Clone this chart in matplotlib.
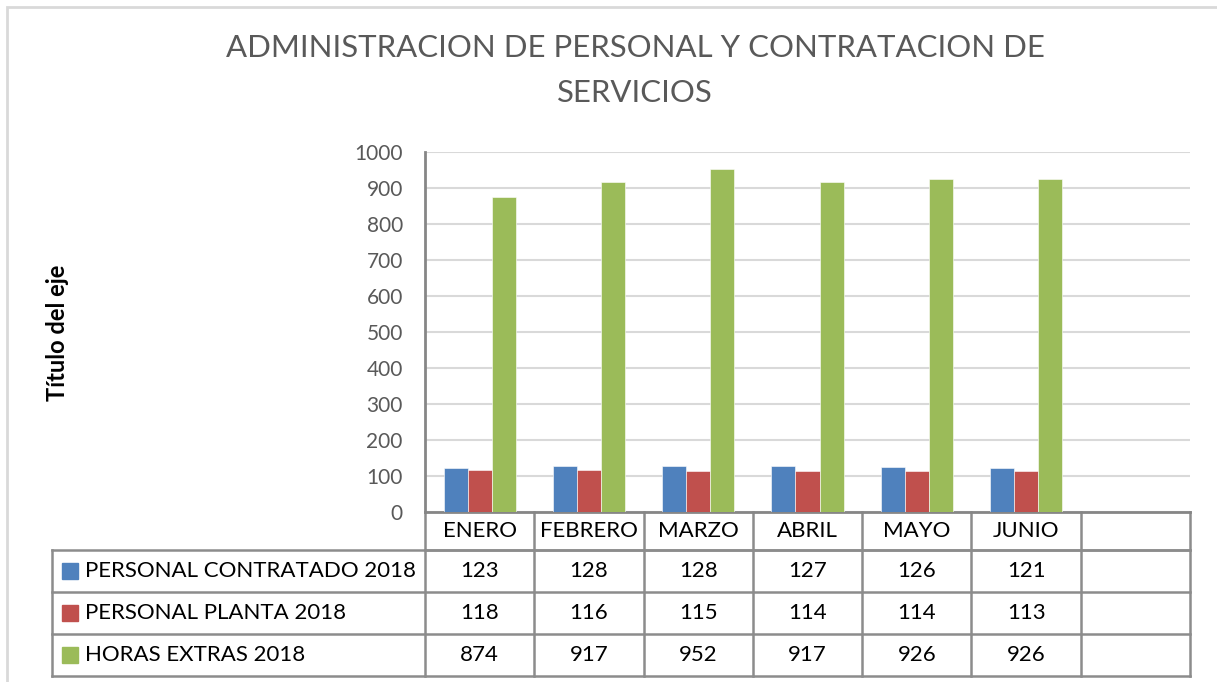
import matplotlib
matplotlib.use("Agg")
import matplotlib.pyplot as plt
from matplotlib.patches import Rectangle
from matplotlib.lines import Line2D
import numpy as np

# data
months = ["ENERO", "FEBRERO", "MARZO", "ABRIL", "MAYO", "JUNIO", ""]
series_names = ["PERSONAL CONTRATADO 2018", "PERSONAL PLANTA 2018", "HORAS EXTRAS 2018"]
contratado = [123, 128, 128, 127, 126, 121]
planta = [118, 116, 115, 114, 114, 113]
horas = [874, 917, 952, 917, 926, 926]
colors = ["#4F81BD", "#C0504D", "#9BBB59"]

W, H = 1217, 682
plt.rcParams['font.family'] = ['Lato', 'DejaVu Sans']

fig = plt.figure(figsize=(W / 100, H / 100), dpi=100)

# outer chart frame
fig.add_artist(Rectangle((7 / W, -0.1), 1.2, (H - 7) / H + 0.1, transform=fig.transFigure,
                         fill=False, edgecolor="#d9d9d9", linewidth=2))

# plot area in pixels
left, right, top, bottom = 425, 1190, 152, 512
ax = fig.add_axes([left / W, (H - bottom) / H, (right - left) / W, (bottom - top) / H])

fig.text(635 / W, 1 - 48 / H, "ADMINISTRACION DE PERSONAL Y CONTRATACION DE",
         ha="center", va="center", fontsize=22.4, color="#595959")
fig.text(635 / W, 1 - 93 / H, "SERVICIOS",
         ha="center", va="center", fontsize=22.4, color="#595959")

values = [contratado, planta, horas]
x = np.arange(len(contratado)) + 0.5
bw = 0.22
for i, (vals, c) in enumerate(zip(values, colors)):
    ax.bar(x + (i - 1) * bw, vals, width=bw, color=c, edgecolor="white", linewidth=0.4, zorder=3)

ax.set_xlim(0, len(months))
ax.set_ylim(0, 1000)
ax.set_yticks(range(0, 1001, 100))
ax.yaxis.grid(True, color="#d9d9d9", linewidth=1.5, zorder=0)
ax.set_xticks([])
ax.tick_params(axis="y", length=0, pad=16, labelsize=15, labelcolor="#595959")
for s in ["top", "right"]:
    ax.spines[s].set_visible(False)
ax.spines["left"].set_color("#868686")
ax.spines["left"].set_linewidth(2)
ax.spines["bottom"].set_color("#868686")
ax.spines["bottom"].set_linewidth(2)

fig.text(58 / W, 1 - 333 / H, "Título del eje", rotation=90, ha="center", va="center",
         fontsize=17, fontweight="bold", color="black")

# data table below the axis
ph = bottom - top
pw = right - left
def fy(py):
    return (bottom - py) / ph
def fx(px):
    return (px - left) / pw

rows_y = [512, 550, 592, 634, 676]
lc = "#8c8c8c"
lw = 1.8
trans = ax.get_xaxis_transform()
# horizontal lines
ax.add_line(Line2D([0, len(months)], [fy(rows_y[1])] * 2, transform=trans, color=lc, lw=lw, clip_on=False))
for yy in rows_y[1:]:
    ax.add_line(Line2D([fx(52), 1], [fy(yy)] * 2, transform=ax.transAxes, color=lc, lw=lw, clip_on=False))
# vertical lines
for k in range(len(months) + 1):
    ax.add_line(Line2D([k, k], [fy(rows_y[0]), fy(rows_y[-1])], transform=trans, color=lc, lw=lw, clip_on=False))
ax.add_line(Line2D([fx(52)] * 2, [fy(rows_y[1]), fy(rows_y[-1])], transform=ax.transAxes, color=lc, lw=lw, clip_on=False))

for k, m in enumerate(months):
    ax.text(k + 0.5, fy((rows_y[0] + rows_y[1]) / 2), m, transform=trans, ha="center", va="center",
            fontsize=16, color="black")
for r, (name, vals, c) in enumerate(zip(series_names, values, colors)):
    yc = fy((rows_y[r + 1] + rows_y[r + 2]) / 2)
    ax.add_patch(Rectangle((fx(62), yc - 8 / ph), 16 / pw, 16 / ph, transform=ax.transAxes,
                           color=c, clip_on=False))
    ax.text(fx(85), yc, name, transform=ax.transAxes, ha="left", va="center", fontsize=16, color="black")
    for k, v in enumerate(vals):
        ax.text(k + 0.5, yc, str(v), transform=trans, ha="center", va="center", fontsize=16, color="black")

fig.savefig("out.png", dpi=100)
